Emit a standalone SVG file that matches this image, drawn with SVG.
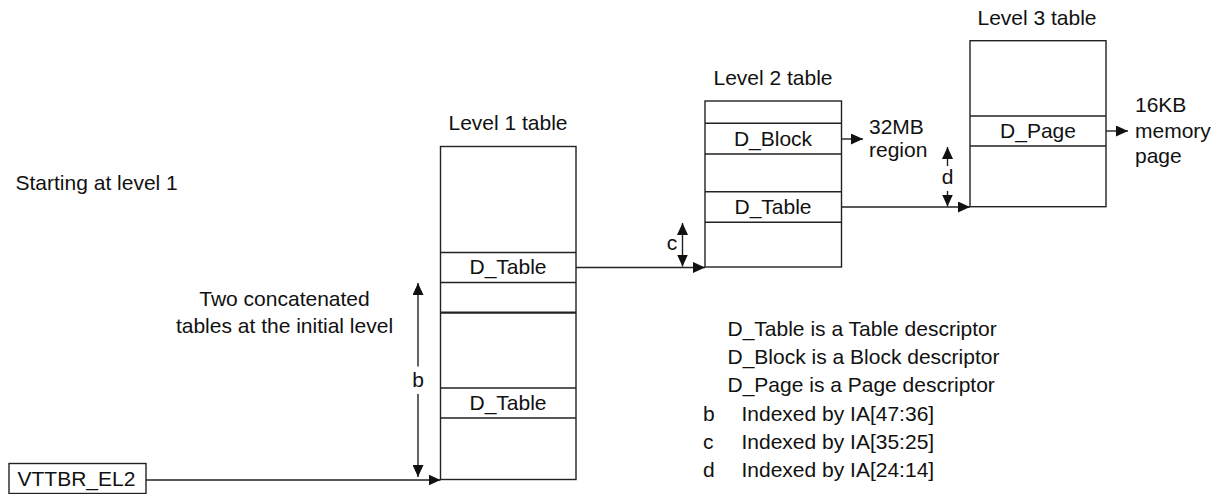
<svg xmlns="http://www.w3.org/2000/svg" width="1226" height="494" viewBox="0 0 1226 494">
<style>
text{font-family:"Liberation Sans",Arial,sans-serif;font-size:21px;fill:#111}
.m{text-anchor:middle}
.box{fill:#fff;stroke:#222;stroke-width:1.4}
.ln{fill:none;stroke:#222;stroke-width:1.4}
.thick{stroke-width:2.2}
.arr{fill:none;stroke:#222;stroke-width:1.4;marker-end:url(#ah)}
.dbl{fill:none;stroke:#222;stroke-width:1.4;marker-end:url(#ah);marker-start:url(#ah)}
</style>
<defs>
<marker id="ah" markerUnits="userSpaceOnUse" markerWidth="12" markerHeight="11" refX="12" refY="5.5" orient="auto-start-reverse">
<path d="M0,0 L12,5.5 L0,11 z" fill="#111"/>
</marker>
</defs>

<g id="start-label"><text x="15.5" y="190">Starting at level 1</text></g>
<g id="concat-label">
<text class="m" x="284.5" y="306">Two concatenated</text>
<text class="m" x="284.5" y="333">tables at the initial level</text>
</g>

<g id="vttbr">
<rect class="box" x="9" y="463.5" width="137" height="30"/>
<text x="17.5" y="486">VTTBR_EL2</text>
</g>

<g id="level1">
<text class="m" x="508" y="130">Level 1 table</text>
<rect class="box" x="440.5" y="146.5" width="135.5" height="333"/>
<line class="ln" x1="440.5" y1="252.5" x2="576" y2="252.5"/>
<line class="ln" x1="440.5" y1="282.5" x2="576" y2="282.5"/>
<line class="ln thick" x1="440.5" y1="312.7" x2="576" y2="312.7"/>
<line class="ln" x1="440.5" y1="388" x2="576" y2="388"/>
<line class="ln" x1="440.5" y1="418" x2="576" y2="418"/>
<text class="m" x="508" y="274">D_Table</text>
<text class="m" x="508" y="410">D_Table</text>
</g>

<g id="level2">
<text class="m" x="773" y="85">Level 2 table</text>
<rect class="box" x="705" y="101" width="136.5" height="166"/>
<line class="ln" x1="705" y1="123.3" x2="841.5" y2="123.3"/>
<line class="ln" x1="705" y1="154" x2="841.5" y2="154"/>
<line class="ln" x1="705" y1="191.7" x2="841.5" y2="191.7"/>
<line class="ln" x1="705" y1="222.3" x2="841.5" y2="222.3"/>
<text class="m" x="773" y="146">D_Block</text>
<text class="m" x="773" y="214">D_Table</text>
</g>

<g id="region-label">
<text x="869" y="134">32MB</text>
<text x="869" y="157">region</text>
</g>

<g id="level3">
<text class="m" x="1037" y="25">Level 3 table</text>
<rect class="box" x="970" y="40.7" width="136" height="166"/>
<line class="ln" x1="970" y1="116" x2="1106" y2="116"/>
<line class="ln" x1="970" y1="146" x2="1106" y2="146"/>
<text class="m" x="1038" y="138">D_Page</text>
</g>

<g id="page-label">
<text x="1135" y="112">16KB</text>
<text x="1135" y="138">memory</text>
<text x="1135" y="163">page</text>
</g>

<g id="legend">
<text x="727.5" y="336">D_Table is a Table descriptor</text>
<text x="727.5" y="364">D_Block is a Block descriptor</text>
<text x="727.5" y="392">D_Page is a Page descriptor</text>
<text x="703" y="420.5">b</text><text x="741.5" y="420.5">Indexed by IA[47:36]</text>
<text x="703" y="449">c</text><text x="741.5" y="449">Indexed by IA[35:25]</text>
<text x="703" y="477">d</text><text x="741.5" y="477">Indexed by IA[24:14]</text>
</g>

<g id="connectors">
<line class="arr" x1="146" y1="480" x2="440.5" y2="480"/>
<line class="arr" x1="576" y1="267.5" x2="705" y2="267.5"/>
<line class="arr" x1="841.5" y1="207" x2="970" y2="207"/>
<line class="arr" x1="841.5" y1="139" x2="863" y2="139"/>
<line class="arr" x1="1106" y1="131" x2="1128" y2="131"/>
<line class="arr" x1="418" y1="366.5" x2="418" y2="283"/>
<line class="arr" x1="418" y1="394" x2="418" y2="477"/>
<text class="m" x="418" y="387">b</text>
<line class="dbl" x1="682.5" y1="223" x2="682.5" y2="266.5"/>
<text class="m" x="672" y="250">c</text>
<line class="arr" x1="947.5" y1="166" x2="947.5" y2="147"/>
<line class="arr" x1="947.5" y1="191" x2="947.5" y2="206.5"/>
<text class="m" x="947.5" y="183.5">d</text>
</g>
</svg>
